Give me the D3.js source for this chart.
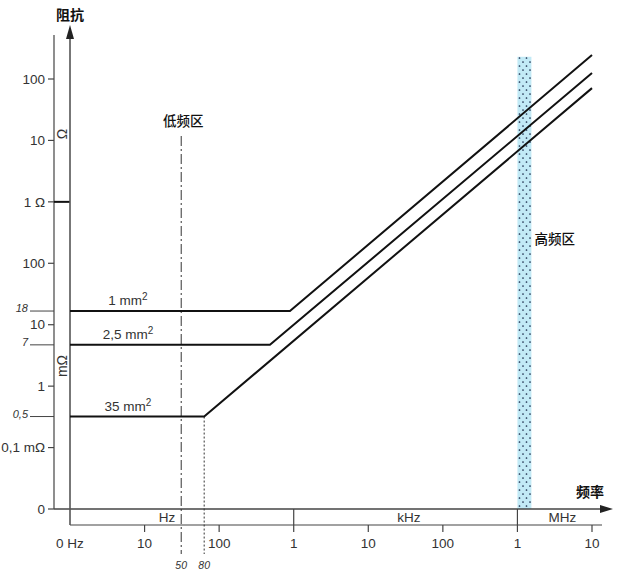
<!DOCTYPE html>
<html><head><meta charset="utf-8">
<script src="https://cdn.jsdelivr.net/npm/d3@7"></script>
<style>body{margin:0;background:#fff}</style>
</head><body><svg id="c" width="640" height="576"></svg>
<script>
const freqTicks = [1, 10, 100, 1e3, 1e4, 1e5, 1e6, 1e7];
const freqTickLabels = ["0 Hz", "10", "100", "1", "10", "100", "1", "10"];
const freqMajor = [1e3, 1e6];
const unitLabels = ["Hz", "kHz", "MHz"];
const unitLabelFreqs = [20, 3.5e4, 4e6];
const zTicks = [1e-5, 1e-4, 1e-3, 1e-2, 1e-1, 1, 10, 100];
const zTickLabels = ["0", "0,1 mΩ", "1", "10", "100", "1 Ω", "10", "100"];
const cableNames = ["1", "2,5", "35"];
const cableLevels = [0.0167, 0.0047, 0.00032];   // Ω (plateau, as drawn)
const cableLevelLabels = ["18", "7", "0,5"];
const cableCorners = [890, 480, 63];             // Hz
const cableEnds = [245, 125, 71];                // Ω at 10 MHz
const markerFreqs = [31, 63];                    // as drawn
const markerLabels = ["50", "80"];
const highBandFreqs = [1e6, 1.54e6];
const highBandTop = 230;                         // Ω

// ---- scales ----
const x = d3.scaleLog().domain([1, 1e7]).range([70, 592]);
const y = d3.scaleLog().domain([1e-5, 100]).range([509, 79]);

const svg = d3.select("#c");
const defs = svg.append("defs");
const pat = defs.append("pattern").attr("id", "dots").attr("patternUnits", "userSpaceOnUse")
  .attr("width", 7).attr("height", 8);
pat.append("rect").attr("width", 7).attr("height", 8).attr("fill", "#c2eaf6");
pat.append("circle").attr("cx", 1.5).attr("cy", 2).attr("r", 0.85).attr("fill", "#1b2a4a");
pat.append("circle").attr("cx", 5).attr("cy", 6).attr("r", 0.85).attr("fill", "#1b2a4a");

const axisCol = "#444", textCol = "#333";
const latin = "Liberation Sans, Arial, sans-serif";
const cjk = "Noto Sans CJK SC, sans-serif";

// high-frequency band
svg.append("rect")
  .attr("x", x(highBandFreqs[0])).attr("width", x(highBandFreqs[1]) - x(highBandFreqs[0]))
  .attr("y", y(highBandTop)).attr("height", y(1e-5) - y(highBandTop))
  .attr("fill", "url(#dots)");
svg.append("text").attr("x", x(highBandFreqs[1]) + 3).attr("y", 244)
  .attr("font-family", cjk).attr("font-weight", 500).attr("font-size", 13.5).attr("fill", "#111").text("高频区");

// left value axis
svg.append("line").attr("x1", 54).attr("x2", 54).attr("y1", 35).attr("y2", y(1e-5))
  .attr("stroke", axisCol).attr("stroke-width", 1.2);
const yt = svg.append("g");
zTicks.forEach((v, i) => {
  yt.append("line").attr("x1", 48).attr("x2", 54).attr("y1", y(v)).attr("y2", y(v))
    .attr("stroke", axisCol).attr("stroke-width", 1.2);
  yt.append("text").attr("x", 45).attr("y", y(v)).attr("dy", "0.35em")
    .attr("text-anchor", "end").attr("font-family", latin).attr("font-size", 13.5)
    .attr("fill", textCol).text(zTickLabels[i]);
});
// 1 Ω bold marker
svg.append("line").attr("x1", 54).attr("x2", 70).attr("y1", y(1)).attr("y2", y(1))
  .attr("stroke", "#111").attr("stroke-width", 2);
// unit labels rotated
[["Ω", 134], ["mΩ", 366]].forEach(([t, py]) => {
  svg.append("text").attr("transform", `translate(67,${py}) rotate(-90)`)
    .attr("text-anchor", "middle").attr("font-family", latin).attr("font-size", 14)
    .attr("fill", textCol).text(t);
});
// plateau level ticks
cableLevels.forEach((v, i) => {
  svg.append("line").attr("x1", 30).attr("x2", 54).attr("y1", y(v)).attr("y2", y(v))
    .attr("stroke", axisCol).attr("stroke-width", 1);
  svg.append("text").attr("x", 28).attr("y", y(v) + 1).attr("text-anchor", "end")
    .attr("font-family", latin).attr("font-size", 11).attr("font-style", "italic")
    .attr("fill", textCol).text(cableLevelLabels[i]);
});

// x axis (arrow) and lower band line
svg.append("line").attr("x1", 54).attr("x2", 604).attr("y1", 509).attr("y2", 509)
  .attr("stroke", axisCol).attr("stroke-width", 1.3);
svg.append("path").attr("d", "M600,505 L613,509 L600,513 Z").attr("fill", "#222");
svg.append("line").attr("x1", 70).attr("x2", 602).attr("y1", 525).attr("y2", 525)
  .attr("stroke", axisCol).attr("stroke-width", 1.2);
// y axis arrow
svg.append("line").attr("x1", 70).attr("x2", 70).attr("y1", 36).attr("y2", 525)
  .attr("stroke", "#555").attr("stroke-width", 1.6);
svg.append("path").attr("d", "M66,39 L70,25 L74,39 Z").attr("fill", "#222");

// x ticks
freqTicks.forEach((f, i) => {
  if (f > 1) {
    const major = freqMajor.includes(f);
    svg.append("line").attr("x1", x(f)).attr("x2", x(f)).attr("y1", major ? 509 : 525).attr("y2", 532)
      .attr("stroke", axisCol).attr("stroke-width", 1.2);
  }
  svg.append("text").attr("x", x(f)).attr("y", 548).attr("text-anchor", "middle")
    .attr("font-family", latin).attr("font-size", 13.5).attr("fill", textCol).text(freqTickLabels[i]);
});
unitLabels.forEach((t, i) => {
  svg.append("text").attr("x", x(unitLabelFreqs[i])).attr("y", 522).attr("text-anchor", "middle")
    .attr("font-family", latin).attr("font-size", 13.5).attr("fill", textCol).text(t);
});

// markers
svg.append("line").attr("x1", x(markerFreqs[0])).attr("x2", x(markerFreqs[0])).attr("y1", 136).attr("y2", 554)
  .attr("stroke", "#333").attr("stroke-width", 1).attr("stroke-dasharray", "10,3,2,3");
svg.append("line").attr("x1", x(markerFreqs[1])).attr("x2", x(markerFreqs[1]))
  .attr("y1", y(cableLevels[2])).attr("y2", 554)
  .attr("stroke", "#333").attr("stroke-width", 1).attr("stroke-dasharray", "2,2");
markerFreqs.forEach((f, i) => {
  svg.append("text").attr("x", x(f)).attr("y", 569).attr("text-anchor", "middle")
    .attr("font-family", latin).attr("font-size", 10.5).attr("font-style", "italic")
    .attr("fill", textCol).text(markerLabels[i]);
});
svg.append("text").attr("x", x(markerFreqs[0]) + 2).attr("y", 126).attr("text-anchor", "middle")
  .attr("font-family", cjk).attr("font-weight", 500).attr("font-size", 13.5).attr("fill", "#111").text("低频区");

// cable curves
const line = d3.line().x(d => x(d[0])).y(d => y(d[1]));
cableLevels.forEach((lv, i) => {
  const pts = [[1, lv], [cableCorners[i], lv], [1e7, cableEnds[i]]];
  svg.append("path").attr("d", line(pts)).attr("fill", "none")
    .attr("stroke", "#111").attr("stroke-width", 2);
  const t = svg.append("text").attr("x", 128).attr("y", y(lv) - 6).attr("text-anchor", "middle")
    .attr("font-family", latin).attr("font-size", 13.5).attr("fill", textCol);
  t.append("tspan").text(cableNames[i] + " mm");
  t.append("tspan").attr("dy", -5).attr("font-size", 10).text("2");
});

// axis titles
svg.append("text").attr("x", 70).attr("y", 20).attr("text-anchor", "middle")
  .attr("font-family", cjk).attr("font-weight", "bold").attr("font-size", 14).attr("fill", "#111").text("阻抗");
svg.append("text").attr("x", 590).attr("y", 497).attr("text-anchor", "middle")
  .attr("font-family", cjk).attr("font-weight", "bold").attr("font-size", 14).attr("fill", "#111").text("频率");
</script></body></html>
